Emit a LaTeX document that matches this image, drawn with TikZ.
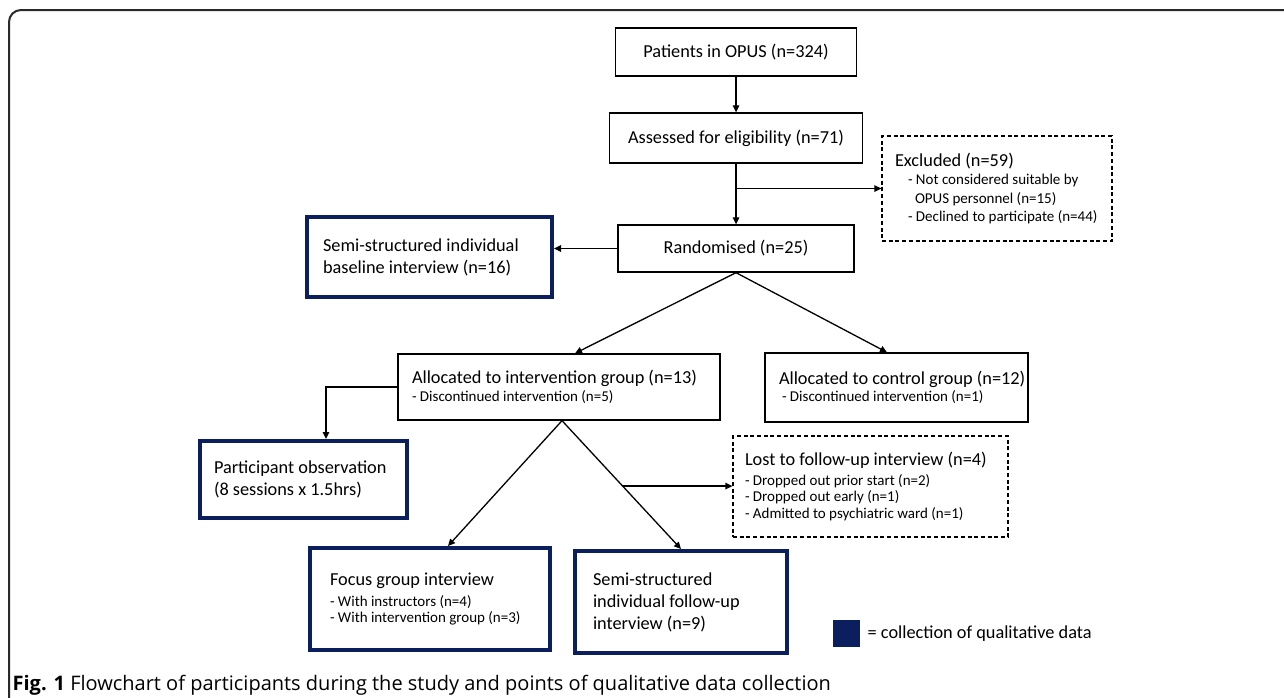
\documentclass[tikz,border=0pt]{standalone}
\usepackage{fontspec}
\setmainfont{Carlito}
\newfontfamily\capfont{Open Sans}
\usetikzlibrary{arrows.meta,calc}
\definecolor{navyqual}{HTML}{0B1F5E}
\definecolor{framegray}{HTML}{2A2A2A}
\newcommand{\bigtxt}{\fontsize{18.3}{22}\selectfont}
\newcommand{\smalltxt}{\fontsize{15}{16.5}\selectfont}
\tikzset{
  every node/.append style={font=\bigtxt,execute at begin node={\spaceskip=0pt\xspaceskip=0pt}},
  plainbox/.style={draw,line width=1.3pt,inner sep=0pt},
  qualbox/.style={draw=navyqual,line width=4pt,inner sep=0pt,align=left},
  outbox/.style={draw,line width=1.3pt,dash pattern=on 4pt off 2.7pt,inner sep=0pt,align=left},
  sized/.style 2 args={minimum width=#1,minimum height=#2}
}

\begin{document}
\begin{tikzpicture}[x=1pt,y=-1pt,>={Triangle[length=7pt,width=6.5pt]},line width=1.3pt]
\useasboundingbox (0,0) rectangle (1284,697);
\draw[framegray,line width=2pt,rounded corners=12pt] (9,705) -- (9,10) -- (1292,10);

\node[plainbox,sized={241pt}{48pt}] (pat) at (736,52) {Patients in OPUS (n=324)};
\node[plainbox,sized={253pt}{50pt}] (ass) at (736,138) {Assessed for eligibility (n=71)};
\node[plainbox,sized={236pt}{47pt}] (rand) at (736,248.5) {Randomised (n=25)};
\node[outbox,sized={230pt}{105pt},text width=204pt] (excl) at (997,188.5)
  {Excluded (n=59)\\[2pt]
   \smalltxt\hspace*{13pt}- Not considered suitable by\\[2pt]
   \hspace*{20pt}OPUS personnel (n=15)\\[2pt]
   \hspace*{13pt}\mbox{- Declined to participate (n=44)}\par};
\node[qualbox,sized={245pt}{80pt},text width=213pt] (base) at (429.5,257)
  {Semi-structured individual\\baseline interview (n=16)};
\node[plainbox,align=left,sized={322pt}{66pt},text width=294pt] (int) at (559,387)
  {Allocated to intervention group (n=13)\\[2pt]
   \smalltxt - Discontinued intervention (n=5)\par};
\node[plainbox,align=left,sized={263pt}{69pt},text width=235pt] (ctrl) at (896.5,387.5)
  {\mbox{Allocated to control group (n=12)}\\[1pt]
   \smalltxt\hspace*{3pt}- Discontinued intervention (n=1)\par};
\node[qualbox,sized={207pt}{77pt},text width=179pt] (obs) at (303.5,479.5)
  {Participant observation\\(8 sessions x 1.5hrs)};
\node[outbox,sized={275pt}{101pt},text width=251pt] (lost) at (870.5,486.5)
  {Lost to follow-up interview (n=4)\\[3pt]
   \smalltxt - Dropped out prior start (n=2)\\
   - Dropped out early (n=1)\\
   - Admitted to psychiatric ward (n=1)\par};
\node[qualbox,sized={240pt}{102pt},text width=200pt] (focus) at (430,599)
  {Focus group interview\\[4pt]
   \smalltxt - With instructors (n=4)\\
   \mbox{- With intervention group (n=3)}\par};
\node[qualbox,sized={212pt}{102pt},text width=176pt] (fu) at (681,602)
  {Semi-structured\\individual follow-up\\interview (n=9)};

\node[fill=navyqual,minimum size=27pt,inner sep=0pt] (key) at (846.5,633) {};
\node[anchor=west,inner sep=0pt] (keytxt) at (867,634) {= collection of qualitative data};

\node[anchor=base west,inner sep=0pt,font=\capfont\fontsize{20}{24}\selectfont] (cap) at (12,690)
  {\textbf{Fig. 1} Flowchart of participants during the study and points of qualitative data collection};

\draw[->] (pat) -- (ass);
\draw[->] (ass) -- (rand);
\draw[->] (ass.south |- excl.west) -- (excl.west);
\draw[->] (rand.west) -- (rand.west -| base.east);
\draw[->] (rand.south) -- ([xshift=16pt]int.north);
\draw[->] (rand.south) -- ([xshift=-9.5pt]ctrl.north);
\draw[->] (int.west) -| ([xshift=22.5pt]obs.north);
\coordinate (intout) at ([xshift=3pt]int.south);
\coordinate (futop) at (fu.north);
\draw[->] (intout) -- ([xshift=18pt]focus.north);
\draw[->] (intout) -- (futop);
\coordinate (lostbr) at ($(intout)!0.51!(futop)$);
\draw[->] (lostbr) -- (lostbr -| lost.west);
\end{tikzpicture}
\end{document}
